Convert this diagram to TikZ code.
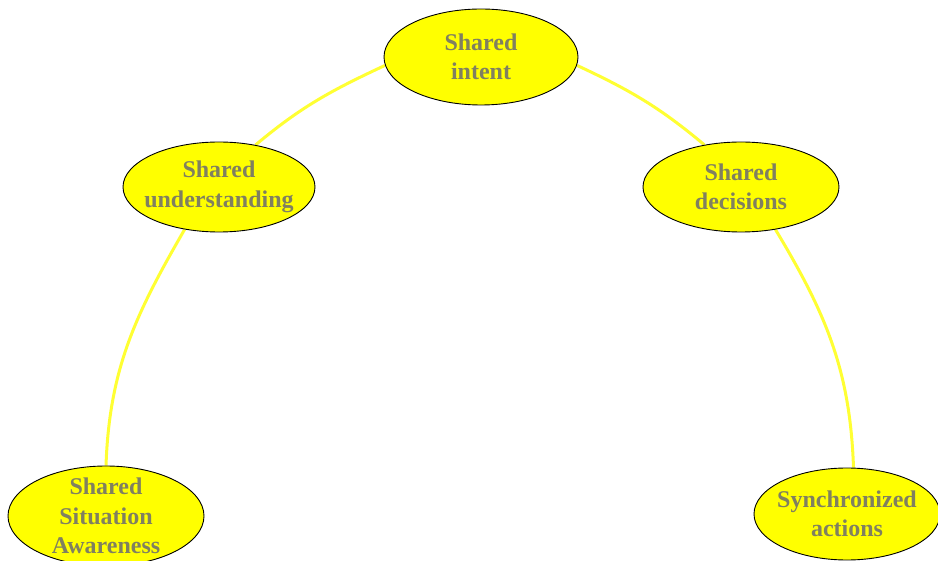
\documentclass[tikz,border=0pt]{standalone}
\usepackage{fontspec}
\setmainfont{Liberation Serif}
\usetikzlibrary{shapes.geometric,backgrounds}
\definecolor{txtgray}{RGB}{128,128,96}
\definecolor{ellfill}{RGB}{255,255,0}
\definecolor{linkyellow}{RGB}{255,255,51}
\begin{document}
\begin{tikzpicture}[x=1pt,y=-1pt,
  bubble/.style={ellipse, draw=black, line width=0.9pt, fill=ellfill, inner sep=-15pt,
    align=center, text=txtgray, font=\fontsize{24}{29.5}\selectfont\bfseries},
  link/.style={draw=linkyellow, line width=3pt}]
\useasboundingbox (0,0) rectangle (938,561);
\node[bubble, minimum width=194pt, minimum height=96pt] (si) at (481,57) {Shared\\intent};
\node[bubble, minimum width=192pt, minimum height=90pt] (su) at (219,187) {Shared\\understanding};
\node[bubble, minimum width=196pt, minimum height=90pt] (sd) at (741,187) {Shared\\decisions};
\node[bubble, minimum width=196pt, minimum height=100pt] (ssa) at (106,516) {Shared\\Situation\\Awareness};
\node[bubble, minimum width=186pt, minimum height=92pt] (sa) at (847,514) {Synchronized\\actions};
\begin{pgfonlayer}{background}
\draw[link] (ssa.north) to[out=88, in=240] (su.231);
\draw[link] (su.49) to[out=40, in=205] (si.185);
\draw[link] (si.355) to[out=-25, in=140] (sd.131);
\draw[link] (sd.309) to[out=-59, in=92] (sa.82);
\end{pgfonlayer}
\end{tikzpicture}
\end{document}
